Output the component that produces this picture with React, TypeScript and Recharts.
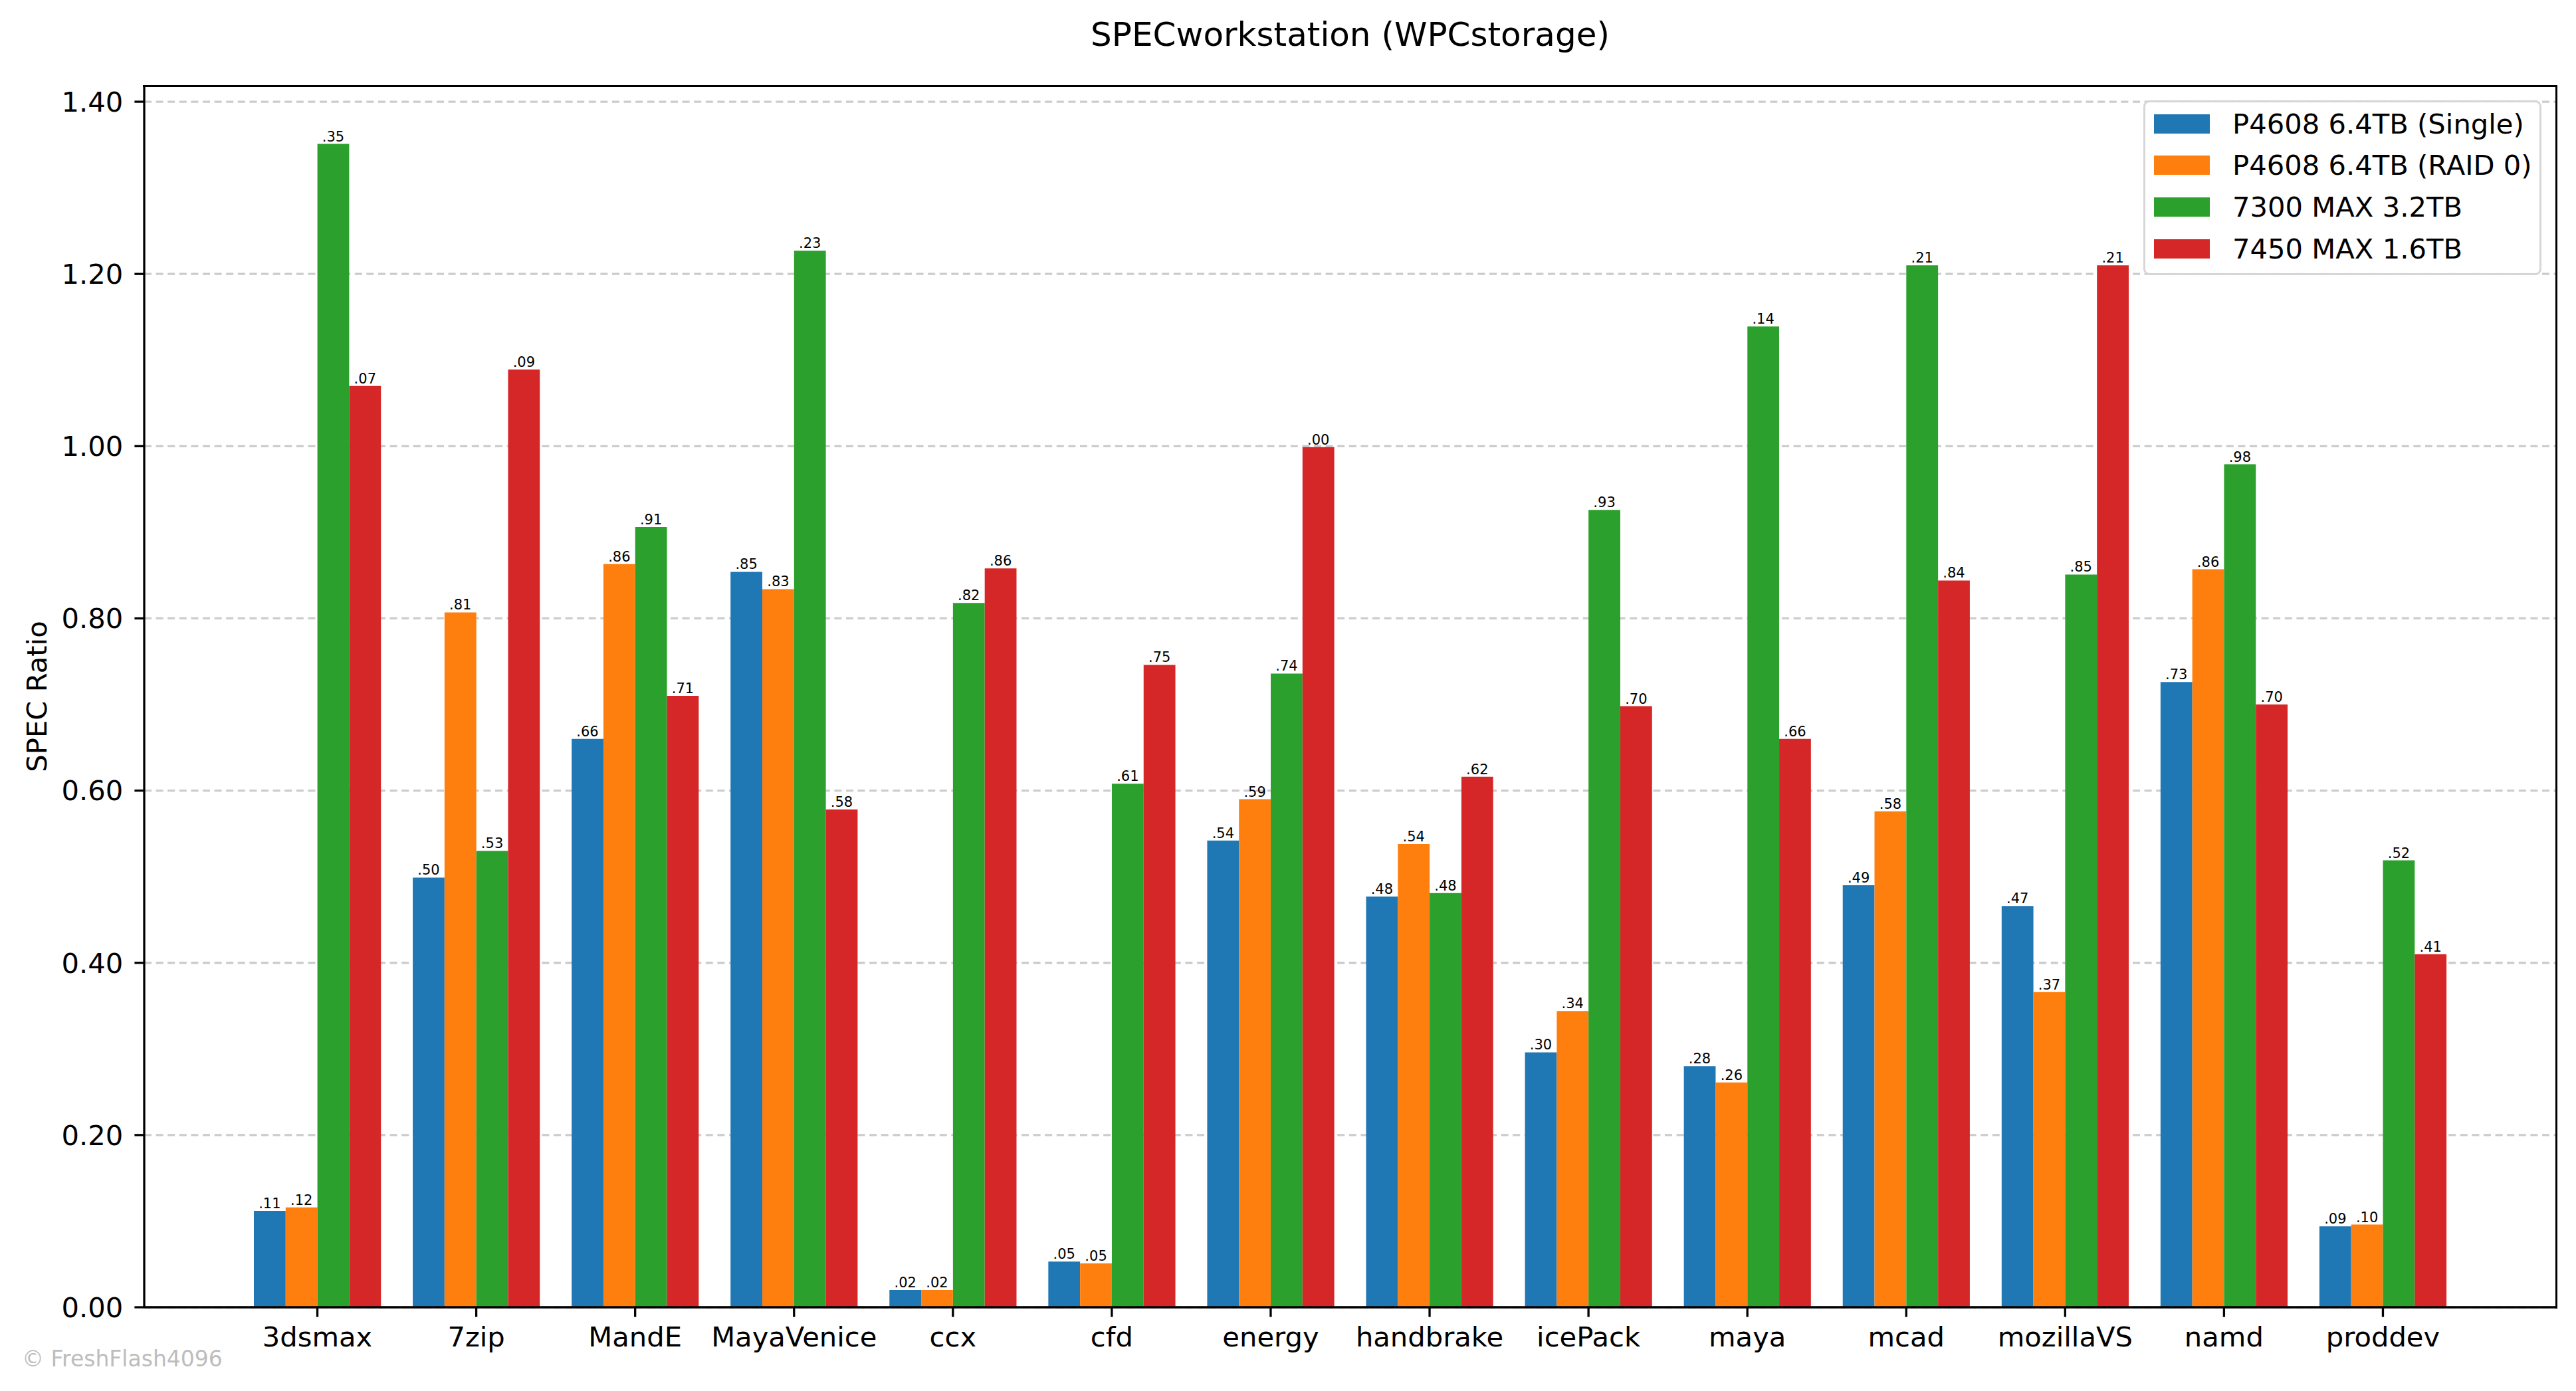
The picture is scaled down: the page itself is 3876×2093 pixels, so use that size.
import React from 'react';
import { BarChart, Bar, XAxis, YAxis, CartesianGrid, Legend, LabelList } from 'recharts';

const categories = ['3dsmax', '7zip', 'MandE', 'MayaVenice', 'ccx', 'cfd', 'energy', 'handbrake', 'icePack', 'maya', 'mcad', 'mozillaVS', 'namd', 'proddev'];
const seriesNames = ['P4608 6.4TB (Single)', 'P4608 6.4TB (RAID 0)', '7300 MAX 3.2TB', '7450 MAX 1.6TB'];
const p4608Single = [0.112, 0.499, 0.660, 0.854, 0.020, 0.053, 0.542, 0.477, 0.296, 0.280, 0.490, 0.466, 0.726, 0.094];
const p4608Raid0 = [0.116, 0.807, 0.863, 0.834, 0.020, 0.051, 0.590, 0.538, 0.344, 0.261, 0.576, 0.366, 0.857, 0.096];
const max7300 = [1.351, 0.530, 0.906, 1.227, 0.818, 0.608, 0.736, 0.481, 0.926, 1.139, 1.210, 0.851, 0.979, 0.519];
const max7450 = [1.070, 1.089, 0.710, 0.578, 0.858, 0.746, 0.999, 0.616, 0.698, 0.660, 0.844, 1.210, 0.700, 0.410];
const yTicks = [0, 0.2, 0.4, 0.6, 0.8, 1.0, 1.2, 1.4];

const colors = ['#1f77b4', '#ff7f0e', '#2ca02c', '#d62728'];
const keys = ['s0', 's1', 's2', 's3'];

const data = categories.map((name, i) => ({
  name,
  s0: p4608Single[i],
  s1: p4608Raid0[i],
  s2: max7300[i],
  s3: max7450[i],
}));

const FONT = 'DejaVu Sans, sans-serif';
const SPINE = 3.3;

const fmtLabel = (v: any) => Number(v).toFixed(2).slice(1);

const renderLegend = (props: any) => {
  const payload = [...(props.payload || [])].sort(
    (a: any, b: any) => seriesNames.indexOf(a.value) - seriesNames.indexOf(b.value)
  );
  return (
    <div
      style={{
        position: 'relative',
        width: 599,
        height: 263,
        boxSizing: 'border-box',
        border: '3px solid #d6d6d6',
        borderRadius: 9,
        background: 'rgba(255,255,255,0.85)',
        fontFamily: FONT,
      }}
    >
      {payload.map((e: any, i: number) => (
        <div
          key={i}
          style={{
            position: 'absolute',
            left: 13,
            top: 17.5 + i * 62.7,
            height: 29,
            display: 'flex',
            alignItems: 'center',
            whiteSpace: 'nowrap',
          }}
        >
          <div style={{ width: 84, height: 29, background: e.color }} />
          <span style={{ marginLeft: 34, fontSize: 41.7, lineHeight: '29px', color: '#000' }}>{e.value}</span>
        </div>
      ))}
    </div>
  );
};

const yLabel = () => (
  <text
    x={70}
    y={1048}
    transform="rotate(-90 70 1048)"
    textAnchor="middle"
    fontSize={41.7}
    fontFamily={FONT}
    fill="#000"
  >
    SPEC Ratio
  </text>
);

export default function App() {
  return (
    <div
      style={{
        position: 'absolute',
        left: 0,
        top: 0,
        width: 3876,
        height: 2093,
        background: '#fff',
        fontFamily: FONT,
        overflow: 'hidden',
      }}
    >
      <div
        style={{
          position: 'absolute',
          left: 217,
          width: 3629,
          top: 26.7,
          fontSize: 50,
          lineHeight: '50px',
          textAlign: 'center',
          color: '#000',
          whiteSpace: 'nowrap',
        }}
      >
        SPECworkstation (WPCstorage)
      </div>
      <BarChart
        width={3876}
        height={2093}
        data={data}
        margin={{ top: 130, right: 30, bottom: 66, left: 77 }}
        barCategoryGap="10%"
        barGap={0}
        barSize={47.8}
      >
        <CartesianGrid
          vertical={false}
          stroke="#cccccc"
          strokeWidth={3.3}
          strokeDasharray="11 6.6"
          horizontalValues={yTicks}
        />
        <XAxis
          dataKey="name"
          height={60}
          padding={{ left: 141, right: 141 }}
          axisLine={{ stroke: '#000', strokeWidth: SPINE }}
          tickLine={{ stroke: '#000', strokeWidth: SPINE }}
          tickSize={14.6}
          tickMargin={15}
          tick={{ fontSize: 41.7, fill: '#000', fontFamily: FONT }}
          interval={0}
        />
        <YAxis
          width={140}
          domain={[0, 1.4178]}
          ticks={yTicks}
          allowDataOverflow
          tickFormatter={(v: number) => v.toFixed(2)}
          axisLine={{ stroke: '#000', strokeWidth: SPINE }}
          tickLine={{ stroke: '#000', strokeWidth: SPINE }}
          tickSize={14.6}
          tickMargin={17}
          tick={{ fontSize: 41.7, fill: '#000', fontFamily: FONT }}
          label={{ content: yLabel }}
        />
        <Legend
          content={renderLegend}
          layout="horizontal"
          verticalAlign="middle"
          align="center"
          wrapperStyle={{ position: 'absolute', left: 3225, top: 151, right: 'auto', bottom: 'auto', width: 599, height: 263 }}
        />
        {keys.map((k, i) => (
          <Bar key={k} dataKey={k} name={seriesNames[i]} fill={colors[i]} isAnimationActive={false}>
            <LabelList
              dataKey={k}
              position="top"
              offset={4}
              formatter={fmtLabel}
              fontSize={21}
              fill="#000"
              fontFamily={FONT}
            />
          </Bar>
        ))}
      </BarChart>
      <div
        style={{
          position: 'absolute',
          left: 217 - SPINE / 2,
          top: 130 - SPINE / 2,
          width: 3629 + SPINE,
          height: 1837 + SPINE,
          boxSizing: 'border-box',
          borderTop: `${SPINE}px solid #000`,
          borderRight: `${SPINE}px solid #000`,
          pointerEvents: 'none',
        }}
      />
      <div
        style={{
          position: 'absolute',
          left: 33,
          top: 2028,
          fontSize: 33,
          lineHeight: '33px',
          color: '#bdbdbd',
          whiteSpace: 'nowrap',
        }}
      >
        © FreshFlash4096
      </div>
    </div>
  );
}
